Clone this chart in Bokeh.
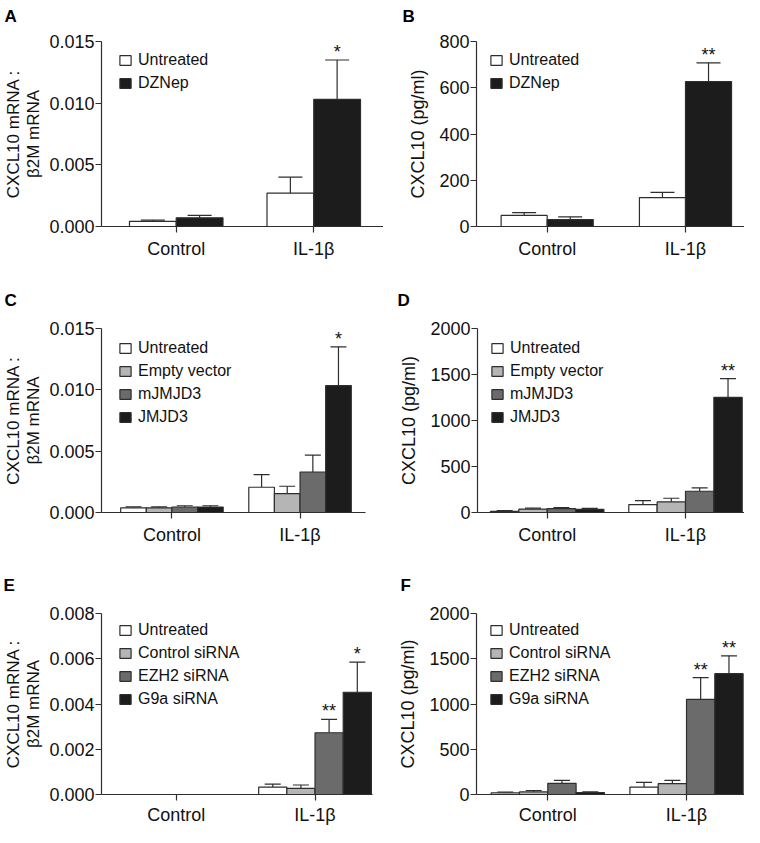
from bokeh.plotting import figure
from bokeh.models import (ColumnDataSource, Range1d, FixedTicker, NumeralTickFormatter,
                          Whisker, TeeHead, Title)
from bokeh.layouts import column, row
from bokeh.embed import file_html
from bokeh.resources import INLINE
from bokeh.core.properties import value

FONT = "Liberation Sans"

categories = ["Control", "IL-1β"]

# ---- Panel A: CXCL10 mRNA, DZNep ----
a_series = ["Untreated", "DZNep"]
a_untreated = [0.00042, 0.0027]
a_untreated_err = [0.0001, 0.0013]
a_dznep = [0.0007, 0.0103]
a_dznep_err = [0.0002, 0.0032]
a_untreated_sig = ["", ""]
a_dznep_sig = ["", "*"]
a_yticks = [0, 0.005, 0.010, 0.015]

# ---- Panel B: CXCL10 protein, DZNep ----
b_series = ["Untreated", "DZNep"]
b_untreated = [48, 125]
b_untreated_err = [12, 23]
b_dznep = [30, 627]
b_dznep_err = [12, 81]
b_untreated_sig = ["", ""]
b_dznep_sig = ["", "**"]
b_yticks = [0, 200, 400, 600, 800]

# ---- Panel C: CXCL10 mRNA, JMJD3 ----
c_series = ["Untreated", "Empty vector", "mJMJD3", "JMJD3"]
c_untreated = [0.00038, 0.00206]
c_untreated_err = [0.00008, 0.00102]
c_empty = [0.00038, 0.00154]
c_empty_err = [0.00008, 0.0006]
c_mjmjd3 = [0.00045, 0.0033]
c_mjmjd3_err = [0.0001, 0.00138]
c_jmjd3 = [0.00045, 0.01035]
c_jmjd3_err = [0.0001, 0.00316]
c_sig = [["", ""], ["", ""], ["", ""], ["", "*"]]
c_yticks = [0, 0.005, 0.010, 0.015]

# ---- Panel D: CXCL10 protein, JMJD3 ----
d_series = ["Untreated", "Empty vector", "mJMJD3", "JMJD3"]
d_untreated = [12, 86]
d_untreated_err = [8, 44]
d_empty = [37, 115]
d_empty_err = [10, 40]
d_mjmjd3 = [42, 231]
d_mjmjd3_err = [10, 36]
d_jmjd3 = [35, 1251]
d_jmjd3_err = [10, 205]
d_sig = [["", ""], ["", ""], ["", ""], ["", "**"]]
d_yticks = [0, 500, 1000, 1500, 2000]

# ---- Panel E: CXCL10 mRNA, siRNA ----
e_series = ["Untreated", "Control siRNA", "EZH2 siRNA", "G9a siRNA"]
e_untreated = [0, 0.00033]
e_untreated_err = [0, 0.00013]
e_ctrl = [0, 0.00027]
e_ctrl_err = [0, 0.00015]
e_ezh2 = [0, 0.00273]
e_ezh2_err = [0, 0.00059]
e_g9a = [0, 0.00452]
e_g9a_err = [0, 0.00133]
e_sig = [["", ""], ["", ""], ["", "**"], ["", "*"]]
e_yticks = [0, 0.002, 0.004, 0.006, 0.008]

# ---- Panel F: CXCL10 protein, siRNA ----
f_series = ["Untreated", "Control siRNA", "EZH2 siRNA", "G9a siRNA"]
f_untreated = [18, 82]
f_untreated_err = [8, 53]
f_ctrl = [28, 120]
f_ctrl_err = [16, 36]
f_ezh2 = [124, 1051]
f_ezh2_err = [32, 241]
f_g9a = [22, 1335]
f_g9a_err = [6, 197]
f_sig = [["", ""], ["", ""], ["", "**"], ["", "**"]]
f_yticks = [0, 500, 1000, 1500, 2000]

COL2 = ["#ffffff", "#1c1c1c"]
COL4 = ["#ffffff", "#b5b5b5", "#6b6b6b", "#1c1c1c"]
INK = "#2e2e2e"


def make_panel(letter, ylabel, ylabel_size, ylabel_standoff, yticks, yfmt, series, means, errs, sigs,
               colors, W, H, left, right, top, frame_h, x_start, x_end, bar_w, tee,
               leg_dx, leg_dy, let_offset, spacer_px, xlab_standoff=6):
    p = figure(width=W, height=H, x_range=Range1d(x_start, x_end),
               y_range=Range1d(0, yticks[-1]), output_backend="svg", toolbar_location=None,
               min_border_left=left, min_border_right=right, min_border_top=top,
               min_border_bottom=H - top - frame_h)
    p.outline_line_color = None
    p.background_fill_color = "white"
    p.border_fill_color = "white"
    p.xgrid.visible = False
    p.ygrid.visible = False

    # panel letter as the figure title, lifted by an invisible spacer title
    p.title.text = letter
    p.title.align = "left"
    p.title.offset = let_offset
    p.title.standoff = 0
    p.title.text_font = FONT
    p.title.text_font_size = "17px"
    p.title.text_font_style = "bold"
    p.title.text_color = "#000000"
    p.add_layout(Title(text=" ", text_font=FONT, text_font_size=f"{spacer_px}px",
                       standoff=0, align="left"), "above")

    n = len(series)
    for j, name in enumerate(series):
        off = (j - (n - 1) / 2) * bar_w
        xs = [i + off for i in range(len(categories))]
        src = ColumnDataSource(dict(x=xs, top=means[j]))
        p.vbar(x="x", top="top", width=bar_w, source=src, fill_color=colors[j],
               line_color=INK, line_width=1.2, legend_label=name)
        keep = [i for i in range(len(categories)) if errs[j][i] > 0]
        wsrc = ColumnDataSource(dict(x=[xs[i] for i in keep],
                                     lower=[means[j][i] for i in keep],
                                     upper=[means[j][i] + errs[j][i] for i in keep]))
        p.add_layout(Whisker(source=wsrc, base="x", lower="lower", upper="upper",
                             dimension="height", line_color=INK, line_width=1.2,
                             lower_head=None,
                             upper_head=TeeHead(size=tee, line_color=INK, line_width=1.2)))
        sk = [i for i in range(len(categories)) if sigs[j][i]]
        if sk:
            ssrc = ColumnDataSource(dict(x=[xs[i] for i in sk],
                                         y=[means[j][i] + errs[j][i] for i in sk],
                                         t=[sigs[j][i] for i in sk]))
            p.text(x="x", y="y", text="t", source=ssrc, text_font=value(FONT),
                   text_font_size="18px", text_align="center", text_baseline="alphabetic",
                   y_offset=-8, text_color="#111111")

    # axes
    for ax in (p.xaxis[0], p.yaxis[0]):
        ax.axis_line_color = INK
        ax.axis_line_width = 1.2
        ax.major_tick_line_color = INK
        ax.major_tick_line_width = 1.2
        ax.major_tick_out = 6
        ax.major_tick_in = 0
        ax.minor_tick_line_color = None
        ax.major_label_text_font = FONT
        ax.major_label_text_font_size = "18px"
        ax.major_label_text_color = "#111111"
    p.xaxis.ticker = FixedTicker(ticks=list(range(len(categories))))
    p.xaxis.major_label_overrides = {i: c for i, c in enumerate(categories)}
    p.xaxis.major_label_standoff = xlab_standoff
    p.yaxis.ticker = FixedTicker(ticks=yticks)
    if yfmt:
        p.yaxis.formatter = NumeralTickFormatter(format=yfmt)
    p.yaxis.major_label_standoff = 1
    p.yaxis.axis_label = ylabel
    p.yaxis.axis_label_text_font = FONT
    p.yaxis.axis_label_text_font_size = ylabel_size
    p.yaxis.axis_label_text_font_style = "normal"
    p.yaxis.axis_label_text_color = "#111111"
    p.yaxis.axis_label_text_line_height = 1.1
    p.yaxis.axis_label_standoff = ylabel_standoff

    # legend
    lg = p.legend[0]
    lg.margin = 0
    lg.padding = 0
    lg.spacing = 3
    lg.border_line_color = None
    lg.background_fill_alpha = 0
    lg.glyph_width = 14
    lg.glyph_height = 12
    lg.label_height = 20
    lg.label_standoff = 6
    lg.label_text_font = FONT
    lg.label_text_font_size = "16px"
    lg.label_text_color = "#111111"
    item_h = 20
    leg_h = n * item_h + (n - 1) * 3
    lg.location = (leg_dx, frame_h - (leg_dy - 4) - leg_h)
    return p


ML = "CXCL10 mRNA :\nβ2M mRNA"
PL = "CXCL10 (pg/ml)"

# row geometry: (fig height, frame top, frame height)
R1 = (284, 41, 185)
R2 = (287, 44, 184)
R3 = (256, 42, 183)
LW, RW = 383, 361

pA = make_panel("A", ML, "17px", 3, a_yticks, "0.000", a_series,
                [a_untreated, a_dznep], [a_untreated_err, a_dznep_err],
                [a_untreated_sig, a_dznep_sig], COL2,
                LW, R1[0], 100, 0, R1[1], R1[2], -0.5435, 1.5072, 0.34, 24, 17, 13, -97, 12)
pB = make_panel("B", PL, "18px", 8, b_yticks, None, b_series,
                [b_untreated, b_dznep], [b_untreated_err, b_dznep_err],
                [b_untreated_sig, b_dznep_sig], COL2,
                RW, R1[0], 93, 0, R1[1], R1[2], -0.511, 1.4266, 0.333, 24, 13, 13, -74, 12)
pC = make_panel("C", ML, "17px", 3, c_yticks, "0.000", c_series,
                [c_untreated, c_empty, c_mjmjd3, c_jmjd3],
                [c_untreated_err, c_empty_err, c_mjmjd3_err, c_jmjd3_err], c_sig, COL4,
                LW, R2[0], 100, 18, R2[1], R2[2], -0.5498, 1.511, 0.2, 16, 17, 14, -97, 16)
pD = make_panel("D", PL, "18px", 8, d_yticks, None, d_series,
                [d_untreated, d_empty, d_mjmjd3, d_jmjd3],
                [d_untreated_err, d_empty_err, d_mjmjd3_err, d_jmjd3_err], d_sig, COL4,
                RW, R2[0], 94, 0, R2[1], R2[2], -0.504, 1.4266, 0.205, 16, 13, 14, -80, 16)
pE = make_panel("E", ML, "17px", 3, e_yticks, "0.000", e_series,
                [e_untreated, e_ctrl, e_ezh2, e_g9a],
                [e_untreated_err, e_ctrl_err, e_ezh2_err, e_g9a_err], e_sig, COL4,
                LW, R3[0], 100, 11, R3[1], R3[2], -0.538, 1.414, 0.203, 16, 17, 13, -98, 16,
                xlab_standoff=4)
pF = make_panel("F", PL, "18px", 8, f_yticks, None, f_series,
                [f_untreated, f_ctrl, f_ezh2, f_g9a],
                [f_untreated_err, f_ctrl_err, f_ezh2_err, f_g9a_err], f_sig, COL4,
                RW, R3[0], 93, 0, R3[1], R3[2], -0.514, 1.418, 0.204, 16, 13, 13, -76, 16,
                xlab_standoff=4)

layout = column(row(pA, pB, spacing=0), row(pC, pD, spacing=0), row(pE, pF, spacing=0), spacing=0)

open("out.html", "w").write(file_html(layout, INLINE))
